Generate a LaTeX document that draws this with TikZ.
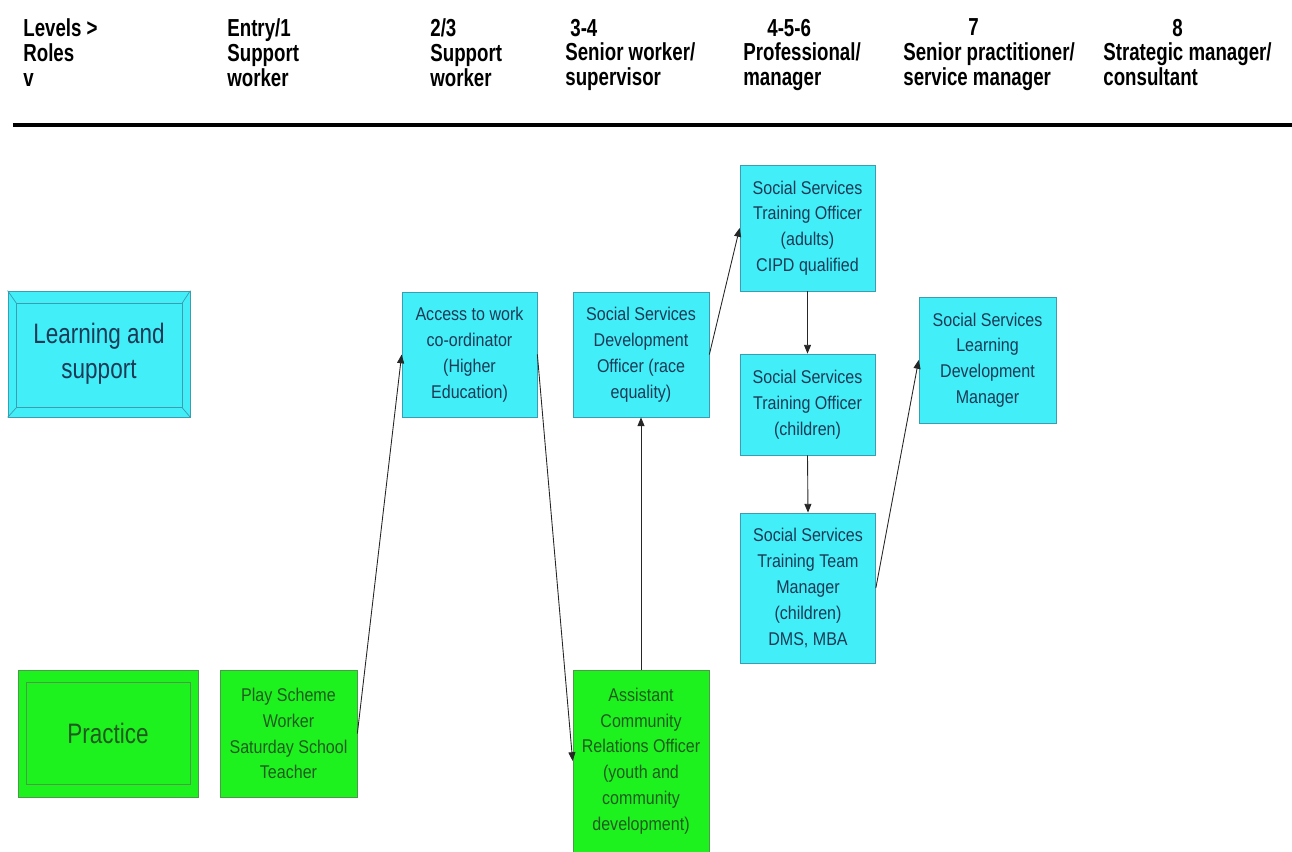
\documentclass[tikz,border=0pt]{standalone}
\usepackage{fontspec}
\setmainfont{Liberation Sans}
\newfontfamily\hdrfont[FakeStretch=0.76]{Liberation Sans}
\newfontfamily\boxfont[FakeStretch=0.87]{Liberation Sans}
\newfontfamily\bigfont[FakeStretch=0.80]{Liberation Sans}
\usetikzlibrary{arrows.meta,calc}

\definecolor{rolecyan}{HTML}{42EEF8}
\definecolor{roleline}{HTML}{3A9DB0}
\definecolor{rolefont}{HTML}{1C3A55}
\definecolor{pracgreen}{HTML}{1EF21E}
\definecolor{pracline}{HTML}{4A9A4A}
\definecolor{pracfont}{HTML}{1F5A1F}

\begin{document}
\begin{tikzpicture}[
  hdr/.style={anchor=north west,align=left,inner sep=0pt,
    font=\hdrfont\bfseries\fontsize{14}{14.2}\selectfont},
  role/.style={draw=roleline,fill=rolecyan,text=rolefont,inner sep=0pt,align=center,
    font=\boxfont\fontsize{10.5}{14.7}\selectfont,minimum width=2.7cm,minimum height=2.5cm},
  prac/.style={role,draw=pracline,fill=pracgreen,text=pracfont},
  bigbox/.style={font=\bigfont\fontsize{16}{20}\selectfont},
  link/.style={-{Triangle[length=5pt,width=4pt]},draw=black!85,line width=0.5pt}
]
  \useasboundingbox (0,0) rectangle (25.84,17.04);
  \clip (0,0) rectangle (25.84,17.04);

  % column heads
  \node [hdr] (hlev)  at ( 0.46,16.67) {Levels >\\Roles\\v};
  \node [hdr] (hent)  at ( 4.54,16.67) {Entry/1\\Support\\worker};
  \node [hdr] (hsup)  at ( 8.60,16.67) {2/3\\Support\\worker};
  \node [hdr] (hsen)  at (11.30,16.67) {\hspace*{0.1cm}3-4\\Senior worker/\\supervisor};
  \node [hdr] (hpro)  at (14.86,16.67) {\hspace*{0.48cm}4-5-6\\Professional/\\manager};
  \node [hdr] (hprac) at (18.06,16.67) {\hspace*{1.3cm}7\\Senior practitioner/\\service manager};
  \node [hdr] (hstr)  at (22.06,16.67) {\hspace*{1.38cm}8\\Strategic manager/\\consultant};
  \draw [line width=2.4pt] (0.26,14.54) -- (25.84,14.54);

  % row heads
  \node [role,bigbox,minimum width=3.64cm,minimum height=2.52cm] (learn) at (1.98,9.96) {Learning and\\support};
  \coordinate (lnw) at ($(learn.north west)+(0.18,-0.26)$);
  \coordinate (lse) at ($(learn.south east)+(-0.17,0.2)$);
  \draw [roleline] (lnw) rectangle (lse);
  \draw [roleline] (learn.north west) -- (lnw);
  \draw [roleline] (learn.south east) -- (lse);
  \draw [roleline] (learn.north east) -- (lse |- lnw);
  \draw [roleline] (learn.south west) -- (lnw |- lse);

  \node [prac,bigbox,minimum width=3.6cm,minimum height=2.54cm] (practice) at (2.16,2.37) {Practice};
  \draw [pracline] ($(practice.north west)+(0.17,-0.26)$) rectangle ($(practice.south east)+(-0.17,0.26)$);

  % roles
  \node [prac,minimum width=2.74cm,minimum height=2.54cm] (play) at (5.77,2.37) {Play Scheme\\Worker\\Saturday School\\Teacher};
  \node [role] (access) at (9.39,9.95) {Access to work\\co-ordinator\\(Higher\\Education)};
  \node [role,minimum width=2.72cm] (ssdo) at (12.82,9.95) {Social Services\\Development\\Officer (race\\equality)};
  \node [prac,minimum width=2.72cm,minimum height=3.64cm] (acro) at (12.82,1.82) {Assistant\\Community\\Relations Officer\\(youth and\\community\\development)};
  \node [role,minimum height=2.52cm] (adults) at (16.15,12.48) {Social Services\\Training Officer\\(adults)\\CIPD qualified};
  \node [role,minimum height=2.02cm] (children) at (16.15,8.95) {Social Services\\Training Officer\\(children)};
  \node [role,minimum height=3.0cm] (team) at (16.16,5.28) {Social Services\\Training Team\\Manager\\(children)\\DMS, MBA};
  \node [role,minimum width=2.74cm,minimum height=2.52cm] (ldm) at (19.75,9.84) {Social Services\\Learning\\Development\\Manager};

  % moves
  \draw [link] (play.east) -- (access.west);
  \draw [link] (access.east) -- (acro.west);
  \draw [link] (acro.north) -- (ssdo.south);
  \draw [link] (ssdo.east) -- (adults.west);
  \draw [link] (adults.south) -- (children.north);
  \draw [link] (children.south) -- (team.north);
  \draw [link] (team.east) -- (ldm.west);
\end{tikzpicture}
\end{document}
